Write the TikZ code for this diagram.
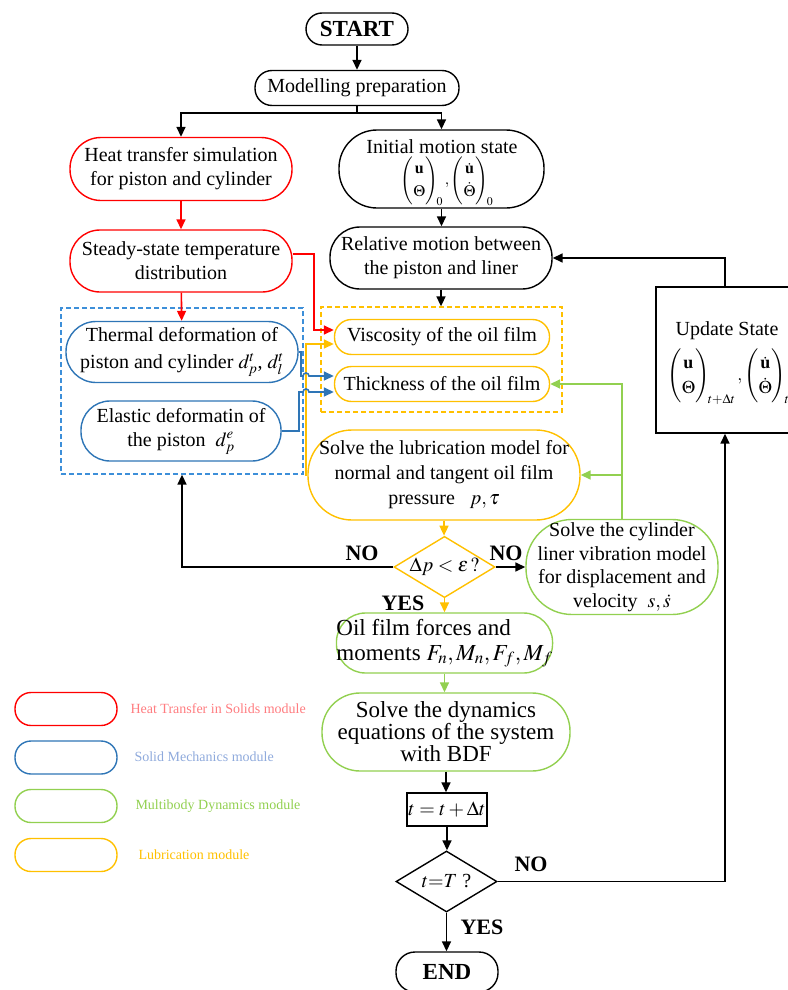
\documentclass[tikz,border=0pt]{standalone}
\usepackage{amsmath}
\usepackage{mathptmx}
\usepackage{fontspec}
\setmainfont{Liberation Serif}
\usetikzlibrary{arrows.meta,shapes.geometric,calc}
\definecolor{cred}{HTML}{FF0000}
\definecolor{cblue}{HTML}{2E75B6}
\definecolor{cbdash}{HTML}{3D8FD9}
\definecolor{cgreen}{HTML}{92D050}
\definecolor{cyel}{HTML}{FFC000}
\definecolor{lred}{HTML}{FF7C80}
\definecolor{lblue}{HTML}{8FAADC}
\tikzset{
  every node/.style={font=\fontsize{20}{24}\selectfont},
  box/.style={draw, line width=1.4pt, align=center, inner sep=0pt},
  rb/.style={box, draw=cred},
  bb/.style={box, draw=cblue},
  gb/.style={box, draw=cgreen},
  yb/.style={box, draw=cyel},
  kb/.style={box, draw=black},
  rc/.style={rounded corners=#1},
  dia/.style={diamond, draw, line width=1.4pt, inner sep=0pt, aspect=1.6},
  ln/.style={line width=1.6pt},
  tip/.style={-{Triangle[length=10pt,width=9pt]}},
  karr/.style={ln, tip, draw=black},
  rarr/.style={ln, tip, draw=cred},
  barr/.style={ln, tip, draw=cblue},
  garr/.style={ln, tip, draw=cgreen},
  yarr/.style={ln, tip, draw=cyel},
  lbl/.style={font=\bfseries\fontsize{22}{22}\selectfont},
  lgtext/.style={anchor=west, font=\fontsize{14}{14}\selectfont},
  grp/.style={draw, line width=1.3pt, dash pattern=on 5pt off 3pt, inner sep=0pt},
}
\begin{document}
\begin{tikzpicture}[x=1pt,y=-1pt]
\useasboundingbox (0,0) rectangle (787,990);

% main nodes
\node[kb, rc=16, minimum width=102, minimum height=32, font=\bfseries\fontsize{23}{23}\selectfont] (start) at (357,29) {START};
\node[kb, rc=17, minimum width=204, minimum height=35] (prep) at (357,88) {Modelling preparation};
\node[rb, rc=31, minimum width=222, minimum height=63] (heat) at (181,169) {Heat transfer simulation\\for piston and cylinder};
\node[kb, rc=38, minimum width=205, minimum height=78] (init) at (441.5,169) {};
\node (initt) at (442,147) {Initial motion state};
\node[font=\fontsize{16}{23}\selectfont] (initm) at (447,181) {$\begin{pmatrix}\mathbf{u}\\ \Theta\end{pmatrix}_{\!0}, \begin{pmatrix}\dot{\mathbf{u}}\\ \dot{\Theta}\end{pmatrix}_{\!0}$};
\node[kb, rc=30, minimum width=222, minimum height=62] (rel) at (441,258) {Relative motion between\\the piston and liner};
\node[rb, rc=30, minimum width=222, minimum height=62] (steady) at (181,261) {Steady-state temperature\\distribution};

\node[grp, draw=cbdash, minimum width=242, minimum height=166] (bluegrp) at (182,391) {};
\node[grp, draw=cyel, minimum width=241, minimum height=105] (yelgrp) at (441.5,359.5) {};

\node[bb, rc=30, minimum width=232, minimum height=61] (thermal) at (182,352) {Thermal deformation of\\[3pt]piston and cylinder $d_p^t$,\ $d_l^t$};
\node[bb, rc=29, minimum width=200, minimum height=60] (elastic) at (181,431) {Elastic deformatin of\\the piston \ $d_p^e$};
\node[yb, rc=17, minimum width=215, minimum height=35] (visc) at (442,337) {Viscosity of the oil film};
\node[yb, rc=17, minimum width=215, minimum height=35] (thick) at (442,384) {Thickness of the oil film};
\node[yb, rc=44, minimum width=272, minimum height=90, font=\fontsize{20}{25}\selectfont] (lub) at (444,475) {Solve the lubrication model for\\normal and tangent oil film\\pressure \ \ $p,\tau$};
\node[dia, draw=cyel, minimum width=101, minimum height=61] (d1) at (444.5,567) {$\Delta p<\varepsilon\,?$};
\node[gb, rc=46, minimum width=192, minimum height=95, font=\fontsize{20}{23.5}\selectfont] (liner) at (622,567) {Solve the cylinder\\liner vibration model\\for displacement and\\velocity \ $s,\dot{s}$};
\node[gb, rc=29, minimum width=215, minimum height=60, align=left, font=\fontsize{23}{25}\selectfont] (oil) at (444.5,643) {Oil film forces and\\moments $F_n,M_n,F_f,M_f$};
\node[gb, rc=38, minimum width=248, minimum height=78, font=\fontsize{23}{22}\selectfont] (dyn) at (446,732) {Solve the dynamics\\equations of the system\\with BDF};
\node[kb, minimum width=80, minimum height=33] (tbox) at (447,809.5) {$t=t+\Delta t$};
\node[dia, draw=black, minimum width=101, minimum height=61] (d2) at (446.5,881.5) {$t{=}T$ ?};
\node[kb, rc=19, minimum width=102, minimum height=40, font=\bfseries\fontsize{23}{23}\selectfont] (endn) at (447,972) {END};
\node[kb, minimum width=138, minimum height=146] (update) at (725,360) {};
\node (updt) at (727,331) {Update State};
\node[anchor=west, font=\fontsize{18}{25}\selectfont] (updm) at (664,377) {$\begin{pmatrix}\mathbf{u}\\ \Theta\end{pmatrix}_{\!t+\Delta t}, \begin{pmatrix}\dot{\mathbf{u}}\\ \dot{\Theta}\end{pmatrix}_{\!t+\Delta t}$};

% labels
\node[lbl] (no1) at (362,553) {NO};
\node[lbl] (no2) at (506,553) {NO};
\node[lbl] (yes1) at (403,603) {YES};
\node[lbl] (no3) at (531,864) {NO};
\node[lbl] (yes2) at (482,927) {YES};

% connectors
\draw[karr] (start) -- (prep);
\coordinate (split) at (357,113);
\draw[ln] (prep.south) -- (split);
\draw[karr] (split) -| (heat.north);
\draw[karr] (split) -| (init.north);
\draw[rarr] (heat) -- (steady);
\draw[karr] (init.south) -- (init.south |- rel.north);
\draw[rarr] (steady) -- (thermal);
\draw[karr] (rel.south) -- (rel.south |- yelgrp.north);
\coordinate (rc) at (314,330);
\draw[rarr] ([yshift=7pt]steady.east) -| (rc) -- (visc.west |- rc);
\coordinate (yv) at (306,344);
\draw[yarr] (lub.west) -| (yv) -- (visc.west |- yv);
\draw[barr] (thermal.east) -| (301,376) -- (303,376) arc[start angle=180, end angle=0, radius=3pt] -- ($(thick.west)+(0,-8)$);
\draw[barr] (elastic.east) -| (299,392) -- (303,392) arc[start angle=180, end angle=0, radius=3pt] -- ($(thick.west)+(0,8)$);
\draw[garr] (liner.north) |- (thick.east);
\draw[garr] (liner.north |- lub.east) -- (lub.east);
\draw[yarr] (lub.south) -- (lub.south |- d1.north);
\draw[karr] (d1.west) -| (bluegrp.south);
\draw[karr] (d1.east) -- (liner.west);
\draw[yarr] (d1.south) -- (oil.north);
\draw[garr] (oil.south) -- (oil.south |- dyn.north);
\draw[karr] (dyn.south) -- (dyn.south |- tbox.north);
\draw[karr] (tbox.south) -- (tbox.south |- d2.north);
\draw[karr] (d2.south) -- (d2.south |- endn.north);
\draw[karr] (d2.east) -| (update.south);
\draw[karr] (update.north) |- (rel.east);

% legend
\node[box, draw=cred, rc=16, minimum width=102, minimum height=33] (lgr) at (66,709) {};
\node[box, draw=cblue, rc=16, minimum width=102, minimum height=33] (lgb) at (66,757.5) {};
\node[box, draw=cgreen, rc=16, minimum width=102, minimum height=33] (lgg) at (66,806) {};
\node[box, draw=cyel, rc=16, minimum width=102, minimum height=33] (lgy) at (66,855) {};
\node[lgtext, text=lred] (tr) at (127,709) {Heat Transfer in Solids module};
\node[lgtext, text=lblue] (tb) at (131,757) {Solid Mechanics module};
\node[lgtext, text=cgreen] (tg) at (132,806) {Multibody Dynamics module};
\node[lgtext, text=cyel] (ty) at (135,855) {Lubrication module};
\end{tikzpicture}
\end{document}
